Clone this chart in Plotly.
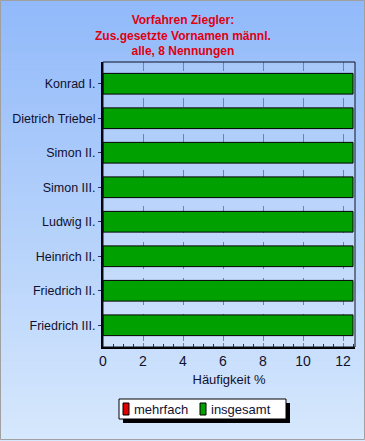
import plotly.graph_objects as go

categories = ["Konrad I.", "Dietrich Triebel", "Simon II.", "Simon III.",
              "Ludwig II.", "Heinrich II.", "Friedrich II.", "Friedrich III."]
insgesamt = [12.5, 12.5, 12.5, 12.5, 12.5, 12.5, 12.5, 12.5]
mehrfach = [0, 0, 0, 0, 0, 0, 0, 0]
x_ticks = [0, 2, 4, 6, 8, 10, 12]
title_lines = ["Vorfahren Ziegler:", "Zus.gesetzte Vornamen männl.", "alle, 8 Nennungen"]
legend_names = ["mehrfach", "insgesamt"]
legend_colors = ["#e00000", "#00a000"]

W, H = 365, 441
L, R, T, B = 103, 10, 62, 94
pw, ph = W - L - R, H - T - B

def px(xpix):
    return (xpix - L) / pw

def py(ypix):
    return 1 - (ypix - T) / ph

fig = go.Figure()
fig.add_trace(go.Bar(y=categories, x=mehrfach, orientation="h", name=legend_names[0],
                     marker=dict(color=legend_colors[0], line=dict(color="black", width=1)),
                     width=0.6, showlegend=False))
fig.add_trace(go.Bar(y=categories, x=insgesamt, orientation="h", name=legend_names[1],
                     marker=dict(color=legend_colors[1], line=dict(color="black", width=1)),
                     width=0.6, showlegend=False))

shapes = []
# gradient background
n = 60
top = (146, 186, 250)
bot = (214, 232, 253)
for i in range(n):
    f = i / (n - 1)
    c = tuple(int(top[k] + (bot[k] - top[k]) * f) for k in range(3))
    shapes.append(dict(type="rect", xref="paper", yref="paper",
                       x0=px(0), x1=px(W), y0=py(H * (i + 1) / n + 0.5), y1=py(H * i / n),
                       fillcolor="rgb(%d,%d,%d)" % c, line=dict(width=0), layer="below"))
# plot area fill
shapes.append(dict(type="rect", xref="paper", yref="paper", x0=0, x1=1, y0=0, y1=1,
                   fillcolor="rgba(255,255,255,0.12)", line=dict(width=0), layer="below"))
# thin plot frame
shapes.append(dict(type="rect", xref="paper", yref="paper", x0=0, x1=1, y0=0, y1=1,
                   line=dict(color="#101020", width=1), layer="above"))
# outer frame
shapes.append(dict(type="rect", xref="paper", yref="paper",
                   x0=px(0.5), x1=px(W - 0.5), y0=py(H - 1.5), y1=py(0.5),
                   line=dict(color="#a0a0a0", width=1), layer="above"))
# legend shadow + box
shapes.append(dict(type="rect", xref="paper", yref="paper",
                   x0=px(123), x1=px(290), y0=py(423), y1=py(403),
                   fillcolor="black", line=dict(width=0), layer="above"))
shapes.append(dict(type="rect", xref="paper", yref="paper",
                   x0=px(119), x1=px(286), y0=py(419), y1=py(399),
                   fillcolor="white", line=dict(color="black", width=1), layer="above"))
annotations = []
sq_x = [123, 200]
tx_x = [132, 209]
for name, col, sx, tx in zip(legend_names, legend_colors, sq_x, tx_x):
    shapes.append(dict(type="rect", xref="paper", yref="paper",
                       x0=px(sx), x1=px(sx + 6), y0=py(415), y1=py(403),
                       fillcolor=col, line=dict(color="black", width=1), layer="above"))
    annotations.append(dict(text=name, xref="paper", yref="paper", x=px(tx), y=py(409),
                            xanchor="left", yanchor="middle", showarrow=False,
                            font=dict(size=13, color="#101030")))

annotations.append(dict(text="<b>" + "<br>".join(title_lines) + "</b>", xref="paper", yref="paper",
                        x=px(183), y=py(11), xanchor="center", yanchor="top",
                        showarrow=False, font=dict(size=12, color="#e00010"),
                        align="center"))

fig.update_layout(
    width=W, height=H,
    margin=dict(l=L, r=R, t=T, b=B, autoexpand=False),
    paper_bgcolor="#b8d4fb",
    plot_bgcolor="rgba(0,0,0,0)",
    barmode="overlay",
    showlegend=False,
    font=dict(family="Liberation Sans, Arial", size=12, color="#101030"),
    shapes=shapes,
    annotations=annotations,
)

fig.update_xaxes(range=[0, 12.6], tickvals=x_ticks, ticktext=[str(v) for v in x_ticks],
                 showgrid=True, gridcolor="#6a86b0", griddash="dash", gridwidth=1,
                 showline=True, linecolor="black", linewidth=2,
                 ticks="inside", ticklen=4, tickcolor="#6a86b0",
                 minor=dict(dtick=0.5, ticks="inside", ticklen=3, tickcolor="#303050", showgrid=False),
                 zeroline=False, automargin=False,
                 title=dict(text="Häufigkeit %", standoff=7, font=dict(size=13)),
                 tickfont=dict(size=14))
fig.update_yaxes(categoryorder="array", categoryarray=categories,
                 range=[7.63, -0.63], showgrid=False, automargin=False,
                 showline=True, linecolor="black", linewidth=2,
                 ticks="outside", ticklen=3, tickcolor="#303050",
                 tickfont=dict(size=12.5))

fig.write_html("out.html", config={"displayModeBar": False},
               post_script="document.body.style.margin='0';document.body.style.overflow='hidden';")
